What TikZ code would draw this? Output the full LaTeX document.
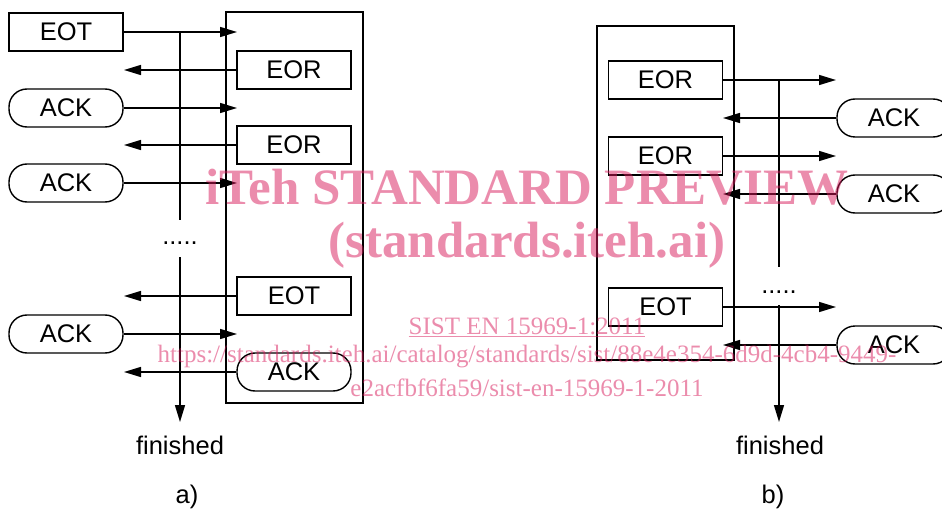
\documentclass[tikz,border=0pt]{standalone}
\usepackage{fontspec}
\setmainfont{Liberation Sans}
\newfontfamily\wmfont{Liberation Serif}
\usetikzlibrary{arrows.meta}
\definecolor{wm}{RGB}{215,25,90}
\begin{document}
\begin{tikzpicture}[x=1pt,y=-1pt,
  line width=1.4pt,
  msg/.style={draw, rectangle, minimum width=114pt, minimum height=38pt, inner sep=0pt,
    font=\fontsize{25.5}{28}\selectfont},
  ack/.style={msg, rounded corners=18pt},
  frame/.style={draw, line width=1.4pt},
  sig/.style={draw, -{Triangle[length=17pt,width=10pt]}},
  lbl/.style={font=\fontsize{25.5}{28}\selectfont, inner sep=0pt},
  stamp/.style={text=wm, text opacity=0.5, inner sep=0pt}]
\useasboundingbox (0,0) rectangle (942,513);

% ---------- a) ----------
\draw[frame] (226,12) rectangle (363,403);
\node[msg] (eotA)  at (66,32)   {EOT};
\node[msg] (eorA1) at (294,70)  {EOR};
\node[ack] (ackA1) at (66,108)  {ACK};
\node[msg] (eorA2) at (294,145) {EOR};
\node[ack] (ackA2) at (66,183)  {ACK};
\node[msg] (eotA2) at (294,296) {EOT};
\node[ack] (ackA3) at (66,334)  {ACK};
\node[ack] (ackA4) at (294,372) {ACK};

\coordinate (inA1) at (237,32);
\coordinate (outA1) at (124,70);
\coordinate (inA2) at (237,108);
\coordinate (outA2) at (124,145);
\coordinate (inA3) at (237,183);
\coordinate (outA3) at (124,296);
\coordinate (inA4) at (237,334);
\coordinate (outA4) at (124,372);

\draw[sig] (eotA.east) -- (inA1);
\draw[sig] (eorA1.west) -- (outA1);
\draw[sig] (ackA1.east) -- (inA2);
\draw[sig] (eorA2.west) -- (outA2);
\draw[sig] (ackA2.east) -- (inA3);
\draw[sig] (eotA2.west) -- (outA3);
\draw[sig] (ackA3.east) -- (inA4);
\draw[sig] (ackA4.west) -- (outA4);

\coordinate (tA0) at (180,32);
\coordinate (tA1) at (180,220);
\coordinate (tA2) at (180,257);
\coordinate (tA3) at (180,422);
\draw (tA0) -- (tA1);
\draw[sig] (tA2) -- (tA3);
\node[lbl] (dotsA) at (180,243) {.....};
\node[lbl] (finA) at (180,445) {finished};
\node[lbl] (capA) at (187,497) {a)};

% ---------- b) ----------
\draw[frame] (597,26) rectangle (734,360);
\node[msg] (eorB1) at (665.5,80)  {EOR};
\node[ack] (ackB1) at (894,118)   {ACK};
\node[msg] (eorB2) at (665.5,156) {EOR};
\node[ack] (ackB2) at (894,194)   {ACK};
\node[msg] (eotB)  at (665.5,307) {EOT};
\node[ack] (ackB3) at (894,345)   {ACK};

\coordinate (outB1) at (836,80);
\coordinate (inB1) at (723,118);
\coordinate (outB2) at (836,156);
\coordinate (inB2) at (723,194);
\coordinate (outB3) at (836,307);
\coordinate (inB3) at (723,345);

\draw[sig] (eorB1.east) -- (outB1);
\draw[sig] (ackB1.west) -- (inB1);
\draw[sig] (eorB2.east) -- (outB2);
\draw[sig] (ackB2.west) -- (inB2);
\draw[sig] (eotB.east) -- (outB3);
\draw[sig] (ackB3.west) -- (inB3);

\coordinate (tB0) at (779,80);
\coordinate (tB1) at (779,267);
\coordinate (tB2) at (779,305);
\coordinate (tB3) at (779,422);
\draw (tB0) -- (tB1);
\draw[sig] (tB2) -- (tB3);
\node[lbl] (dotsB) at (779,292) {.....};
\node[lbl] (finB) at (780,445) {finished};
\node[lbl] (capB) at (773,497) {b)};

% ---------- preview stamp ----------
\node[stamp, font=\wmfont\bfseries\fontsize{51}{55}\selectfont] (wm1) at (527,187) {iTeh STANDARD PREVIEW};
\node[stamp, font=\wmfont\bfseries\fontsize{51}{55}\selectfont] (wm2) at (527,245) {(standards.iteh.ai)};
\node[stamp, font=\wmfont\fontsize{25}{28}\selectfont] (wm3) at (527,327) {\underline{SIST EN 15969-1:2011}};
\node[stamp, font=\wmfont\fontsize{25}{28}\selectfont] (wm4) at (527,357) {https://standards.iteh.ai/catalog/standards/sist/88e4e354-6d9d-4cb4-9449-};
\node[stamp, font=\wmfont\fontsize{25}{28}\selectfont] (wm5) at (527,388) {e2acfbf6fa59/sist-en-15969-1-2011};
\end{tikzpicture}
\end{document}
